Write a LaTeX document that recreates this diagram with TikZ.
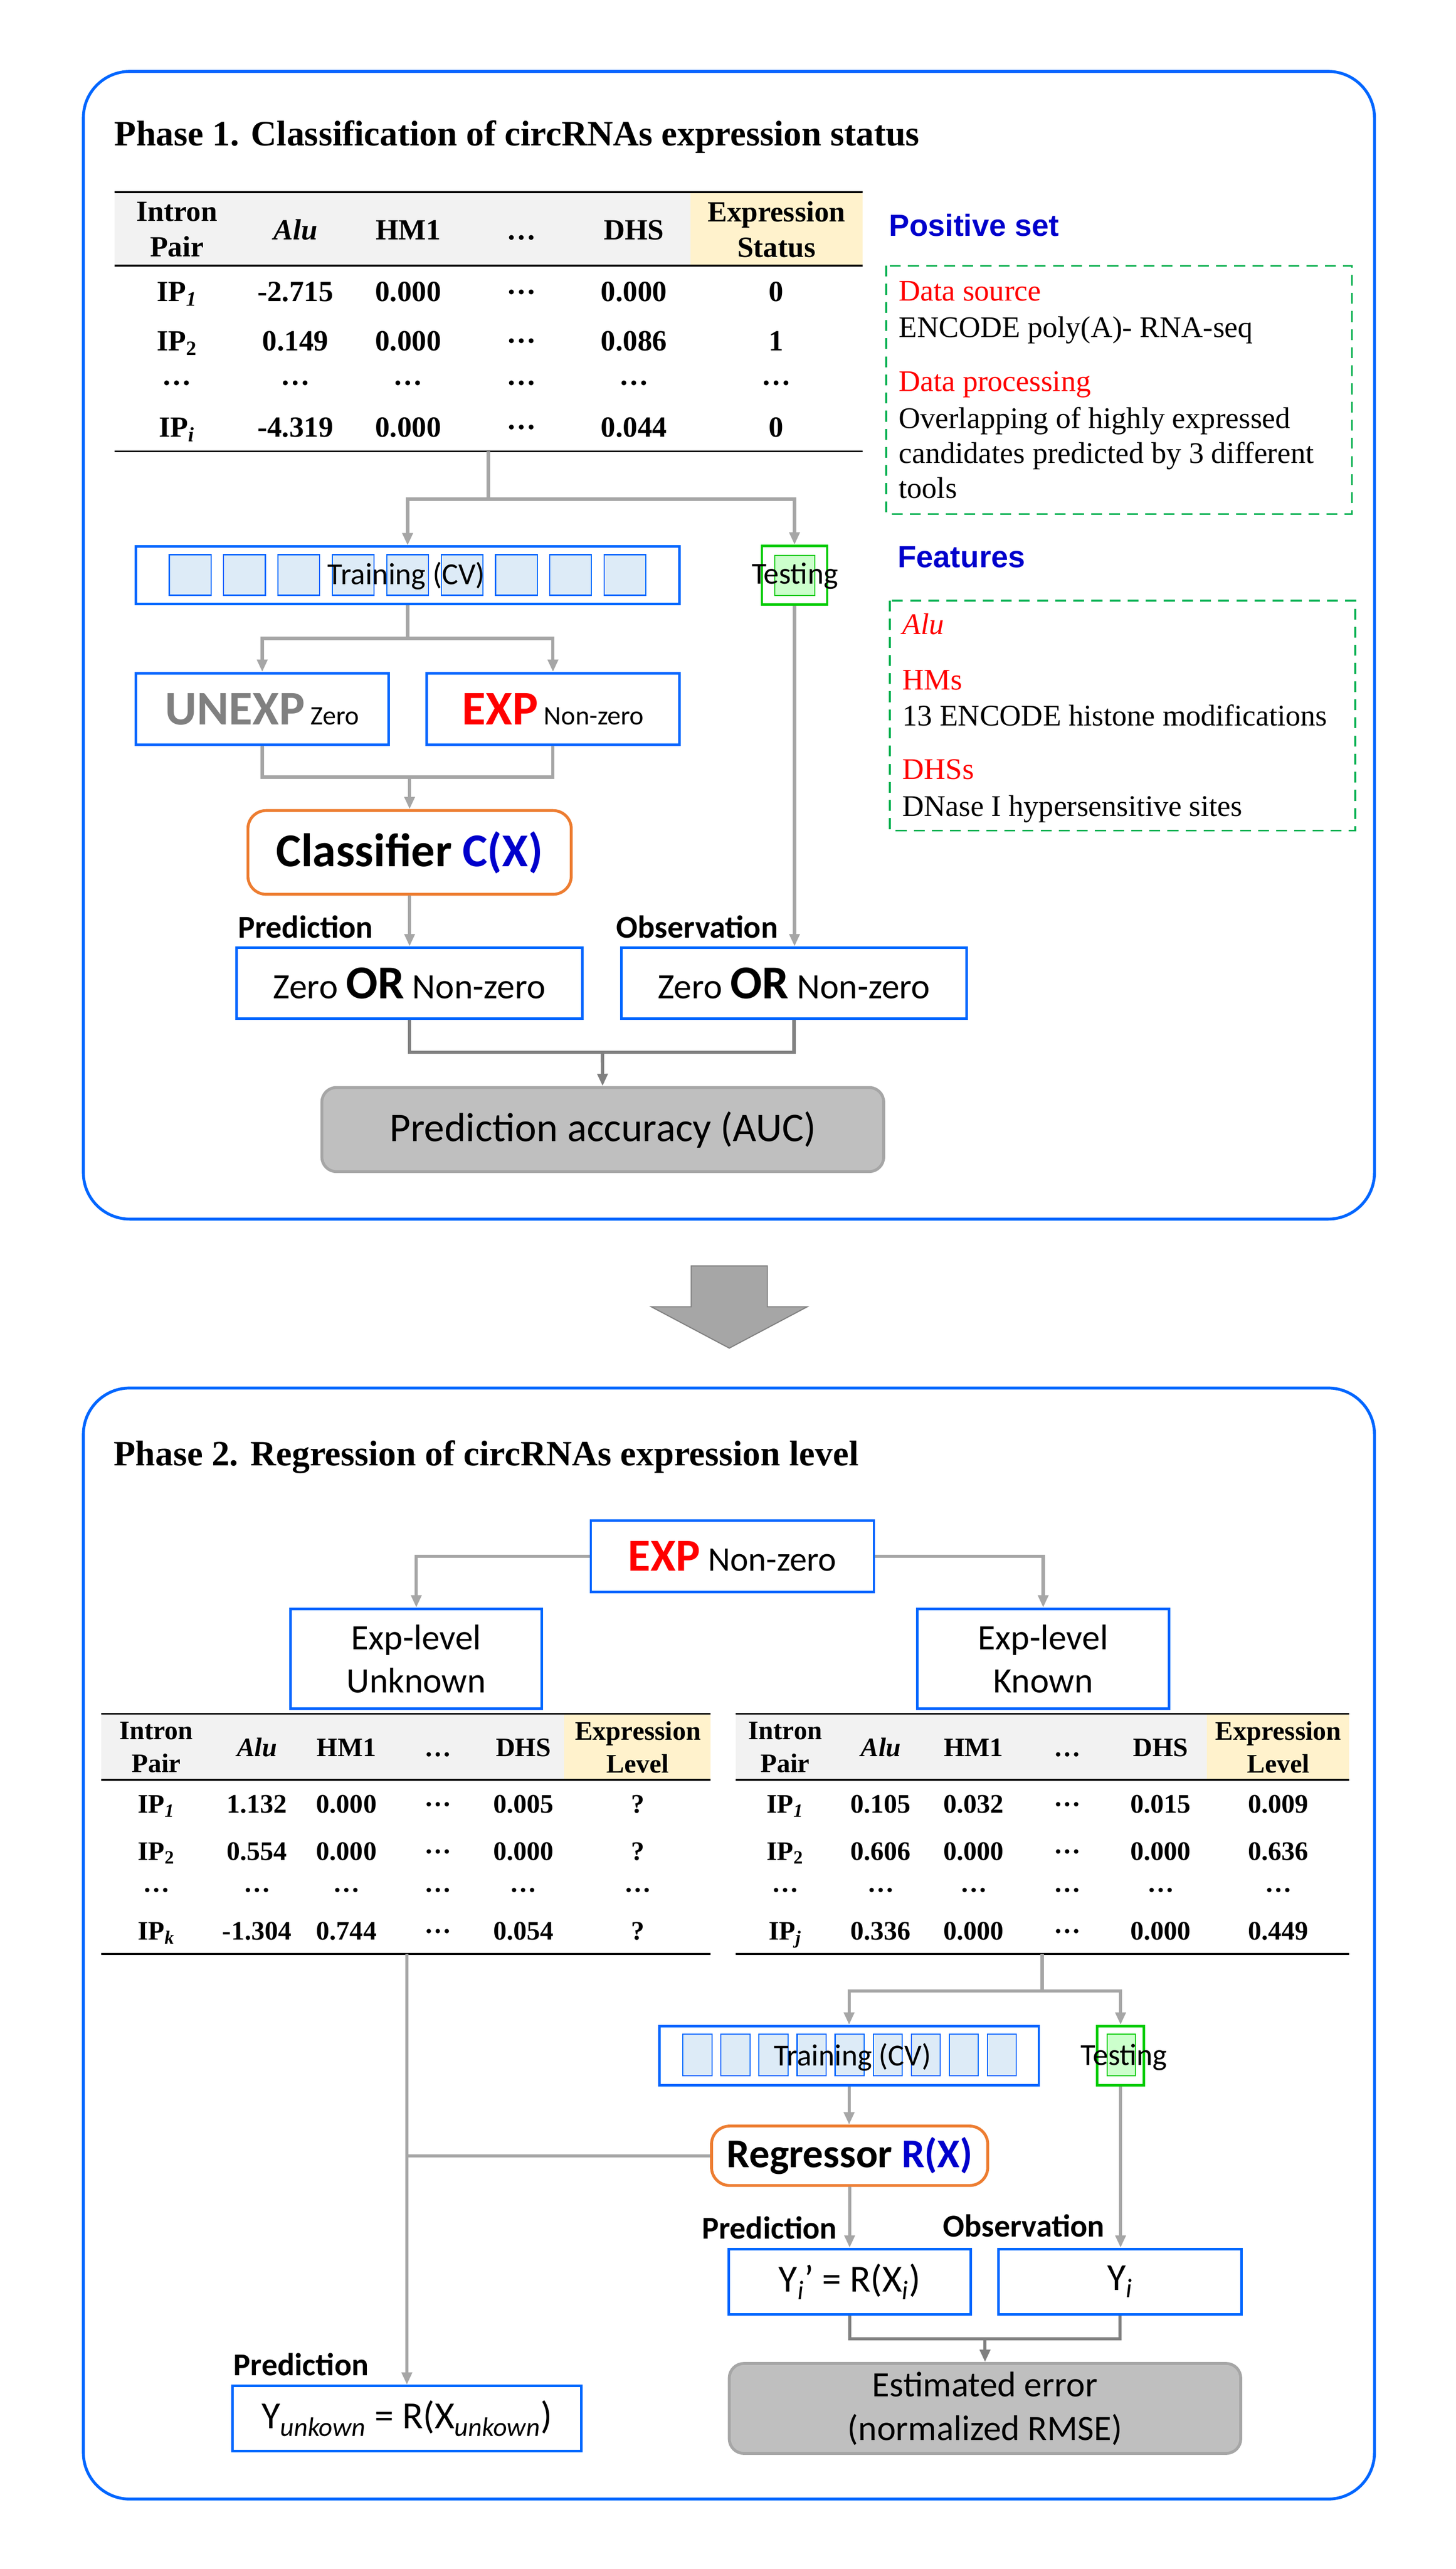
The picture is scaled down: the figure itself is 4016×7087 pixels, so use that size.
\documentclass[tikz,border=0pt]{standalone}
\usepackage{fontspec}
\setmainfont{Liberation Serif}
\setsansfont{Carlito}
\newfontfamily\headfont{Liberation Sans}
\usetikzlibrary{arrows.meta}
\definecolor{frameblue}{HTML}{0066FF}
\definecolor{navy}{HTML}{0000CC}
\definecolor{expred}{HTML}{FF0000}
\definecolor{unexpgray}{HTML}{808080}
\definecolor{conngray}{HTML}{A6A6A6}
\definecolor{darkconn}{HTML}{808080}
\definecolor{orangeline}{HTML}{ED7D31}
\definecolor{testgreen}{HTML}{00CC00}
\definecolor{testfill}{HTML}{CCFFCC}
\definecolor{dashgreen}{HTML}{00B050}
\definecolor{foldfill}{HTML}{DDEBF7}
\definecolor{headgray}{HTML}{F2F2F2}
\definecolor{headyellow}{HTML}{FFF2CC}
\definecolor{resultfill}{HTML}{BFBFBF}
\newcommand{\middots}{\raisebox{.25em}{…}}

\begin{document}
\begin{tikzpicture}[x=0.1mm,y=-0.1mm,
    conn/.style={draw=conngray,line width=0.9mm},
    dark conn/.style={draw=darkconn,line width=0.9mm},
    arrowed/.style={-{Triangle[length=3.4mm,width=2.8mm]}},
    phase frame/.style={draw=frameblue,line width=0.8mm,rounded corners=12.8mm},
    blue box/.style={draw=frameblue,line width=0.7mm,fill=white,inner sep=0pt,font=\sffamily},
    fold/.style={draw=frameblue,fill=foldfill,line width=0.3mm},
    test box/.style={draw=testgreen,line width=0.7mm,fill=white,inner sep=0pt},
    test fold/.style={draw=testgreen,fill=testfill,line width=0.3mm},
    model box/.style={draw=orangeline,line width=0.8mm,rounded corners=5mm,fill=white,inner sep=0pt,font=\sffamily\bfseries},
    result box/.style={draw=conngray,fill=resultfill,line width=0.8mm,rounded corners=4mm,inner sep=0pt,font=\sffamily\fontsize{32}{38}\selectfont},
    dash box/.style={draw=dashgreen,line width=0.45mm,dash pattern=on 3mm off 2mm},
    rule/.style={line width=0.5mm},
    phase title/.style={font=\bfseries\fontsize{28}{32}\selectfont,inner sep=0pt,anchor=base west},
    tab one/.style={font=\bfseries\fontsize{23}{28}\selectfont,inner sep=0pt,anchor=base},
    tab two/.style={font=\bfseries\fontsize{21}{25.5}\selectfont,inner sep=0pt,anchor=base},
    note/.style={font=\fontsize{23.5}{27.5}\selectfont,inner sep=0pt,anchor=base west},
    side head/.style={font=\headfont\bfseries\fontsize{24}{28}\selectfont,text=navy,inner sep=0pt,anchor=base west},
    lbl/.style={font=\sffamily\bfseries\fontsize{25}{30}\selectfont,inner sep=0pt,anchor=base west},
    cv/.style={font=\sffamily\fontsize{24}{28}\selectfont,inner sep=0pt}]

  \useasboundingbox (0,0) rectangle (4016,7087);

  % ---------------- Phase 1 ----------------
  \draw[phase frame] (230,197) rectangle (3792,3363);
  \node[phase title] (title1) at (315,402) {Phase 1. Classification of circRNAs expression status};

  % table
  \fill[headgray] (316,530) rectangle (1905,733);
  \fill[headyellow] (1905,530) rectangle (2380,733);
  \draw[rule] (316,530) -- (2380,530);
  \draw[rule] (316,733) -- (2380,733);
  \draw[rule] (316,1245) -- (2380,1245);
  \node[tab one,anchor=center,align=center] (h1a) at (488,633) {Intron\\Pair};
  \node[tab one] (h1b) at (815,661) {\textit{Alu}};
  \node[tab one] (h1c) at (1126,661) {HM1};
  \node[tab one] (h1d) at (1438,661) {…};
  \node[tab one] (h1e) at (1749,661) {DHS};
  \node[tab one,anchor=center,align=center] (h1f) at (2142,633) {Expression\\Status};
  \foreach \x/\v [count=\c] in {488/IP\textsubscript{\textit{1}},815/-2.715,1126/0.000,1438/\middots,1749/0.000,2142/0}
    \node[tab one] (a1\c) at (\x,831) {\v};
  \foreach \x/\v [count=\c] in {488/IP\textsubscript{2},815/0.149,1126/0.000,1438/\middots,1749/0.086,2142/1}
    \node[tab one] (a2\c) at (\x,967) {\v};
  \foreach \x [count=\c] in {488,815,1126,1438,1749,2142}
    \node[tab one] (a3\c) at (\x,1063) {…};
  \foreach \x/\v [count=\c] in {488/IP\textsubscript{\textit{i}},815/-4.319,1126/0.000,1438/\middots,1749/0.044,2142/0}
    \node[tab one] (a4\c) at (\x,1205) {\v};

  % positive set and features
  \node[side head] (pos) at (2452,651) {Positive set};
  \draw[dash box] (2445,733) rectangle (3730,1418);
  \node[note,text=expred] (src) at (2479,830) {Data source};
  \node[note] (srctxt) at (2479,930) {ENCODE poly(A)- RNA-seq};
  \node[note,text=expred] (proc) at (2479,1079) {Data processing};
  \node[note,anchor=north west,align=left] (proctxt) at (2479,1122)
    {Overlapping of highly expressed\\candidates predicted by 3 different\\tools};
  \node[side head] (feat) at (2476,1566) {Features};
  \draw[dash box] (2455,1657) rectangle (3739,2291);
  \node[note,text=expred] (falu) at (2489,1750) {\textit{Alu}};
  \node[note,text=expred] (fhm) at (2489,1903) {HMs};
  \node[note] (fhmtxt) at (2489,2002) {13 ENCODE histone modifications};
  \node[note,text=expred] (fdhs) at (2489,2150) {DHSs};
  \node[note] (fdhstxt) at (2489,2251) {DNase I hypersensitive sites};

  % training / testing
  \node[blue box,minimum width=149.9mm,minimum height=15.8mm] (train1) at (1124.5,1587) {};
  \foreach \i in {0,...,8}
    \draw[fold] ({467+150*\i},1530) rectangle ++(115,112);
  \node[cv] (cv1) at (1121,1589) {Training (CV)};
  \node[test box,minimum width=18mm,minimum height=16.2mm] (test1) at (2192,1587) {};
  \draw[test fold] (2138,1532) rectangle (2248,1643);
  \node[cv] (tst1) at (2193,1589) {Testing};

  \node[blue box,minimum width=69.7mm,minimum height=19.8mm] (unexp) at (723.5,1956)
    {{\bfseries\color{unexpgray}\fontsize{38}{40}\selectfont UNEXP}{\fontsize{21}{24}\selectfont\ Zero}};
  \node[blue box,minimum width=69.7mm,minimum height=19.8mm] (exp1) at (1525.5,1956)
    {{\bfseries\color{expred}\fontsize{38}{40}\selectfont EXP}{\fontsize{21}{24}\selectfont\ Non-zero}};
  \node[model box,minimum width=89.2mm,minimum height=23.1mm] (clf) at (1130,2351.5)
    {\fontsize{37}{40}\selectfont Classifier \textcolor{navy}{C(X)}};

  \node[lbl] (predlbl1) at (656,2587) {Prediction};
  \node[lbl] (obslbl1) at (1700,2587) {Observation};
  \node[blue box,minimum width=95.3mm,minimum height=19.6mm] (pred1) at (1129.5,2712)
    {\fontsize{28}{30}\selectfont Zero {\bfseries\fontsize{37}{40}\selectfont OR} Non-zero};
  \node[blue box,minimum width=95.3mm,minimum height=19.6mm] (obs1) at (2190.5,2712)
    {\fontsize{28}{30}\selectfont Zero {\bfseries\fontsize{37}{40}\selectfont OR} Non-zero};
  \node[result box,minimum width=155mm,minimum height=23.2mm] (auc) at (1663,3116)
    {Prediction accuracy (AUC)};

  \coordinate (t1b) at (1347,1245);
  \coordinate (s1) at (1347,1377);
  \coordinate (s2) at (1124.5,1761);
  \coordinate (m1) at (1130,2144);
  \coordinate (m2) at (1662,2903);
  \draw[conn] (t1b) -- (s1);
  \draw[conn,arrowed] (s1) -| (train1);
  \draw[conn,arrowed] (s1) -| (test1);
  \draw[conn] (train1) -- (s2);
  \draw[conn,arrowed] (s2) -| (unexp);
  \draw[conn,arrowed] (s2) -| (exp1);
  \draw[conn] (unexp) |- (m1) -| (exp1);
  \draw[conn,arrowed] (m1) -- (clf);
  \draw[conn,arrowed] (clf) -- (clf |- pred1.north);
  \draw[conn,arrowed] (test1) -- (test1 |- obs1.north);
  \draw[dark conn] (pred1) |- (m2) -| (obs1);
  \draw[dark conn,arrowed] (m2) -- (auc);

  % big arrow between phases
  \draw[fill=conngray,draw=darkconn,line width=0.3mm]
    (1907,3492) -- (2117,3492) -- (2117,3605) -- (2227,3605) -- (2012,3719)
    -- (1797,3605) -- (1907,3605) -- cycle;

  % ---------------- Phase 2 ----------------
  \draw[phase frame] (230,3829) rectangle (3792,6894);
  \node[phase title] (title2) at (313,4043) {Phase 2. Regression of circRNAs expression level};

  \node[blue box,minimum width=78.1mm,minimum height=19.7mm] (exp2) at (2020.5,4293.5)
    {{\bfseries\color{expred}\fontsize{36}{40}\selectfont EXP}{\fontsize{27}{30}\selectfont\ Non-zero}};
  \node[blue box,align=center,minimum width=69.3mm,minimum height=27.6mm,font=\sffamily\fontsize{28}{34}\selectfont] (unk) at (1148.5,4576) {Exp-level\\Unknown};
  \node[blue box,align=center,minimum width=69.4mm,minimum height=27.6mm,font=\sffamily\fontsize{28}{34}\selectfont] (known) at (2878,4576) {Exp-level\\Known};
  \draw[conn,arrowed] (exp2) -| (unk);
  \draw[conn,arrowed] (exp2) -| (known);

  % left table
  \fill[headgray] (279,4728) rectangle (1556,4910);
  \fill[headyellow] (1556,4728) rectangle (1960,4910);
  \draw[rule] (279,4728) -- (1960,4728);
  \draw[rule] (279,4910) -- (1960,4910);
  \draw[rule] (279,5390) -- (1960,5390);
  \node[tab two,anchor=center,align=center] (h2a) at (431,4820) {Intron\\Pair};
  \node[tab two] (h2b) at (709,4845) {\textit{Alu}};
  \node[tab two] (h2c) at (956,4845) {HM1};
  \node[tab two] (h2d) at (1209,4845) {…};
  \node[tab two] (h2e) at (1444,4845) {DHS};
  \node[tab two,anchor=center,align=center] (h2f) at (1760,4820) {Expression\\Level};
  \foreach \x/\v [count=\c] in {431/IP\textsubscript{\textit{1}},709/1.132,956/0.000,1209/\middots,1444/0.005,1760/?}
    \node[tab two] (b1\c) at (\x,5001) {\v};
  \foreach \x/\v [count=\c] in {431/IP\textsubscript{2},709/0.554,956/0.000,1209/\middots,1444/0.000,1760/?}
    \node[tab two] (b2\c) at (\x,5131) {\v};
  \foreach \x [count=\c] in {431,709,956,1209,1444,1760}
    \node[tab two] (b3\c) at (\x,5220) {…};
  \foreach \x/\v [count=\c] in {431/IP\textsubscript{\textit{k}},709/-1.304,956/0.744,1209/\middots,1444/0.054,1760/?}
    \node[tab two] (b4\c) at (\x,5352) {\v};

  % right table
  \fill[headgray] (2029,4728) rectangle (3329,4910);
  \fill[headyellow] (3329,4728) rectangle (3722,4910);
  \draw[rule] (2029,4728) -- (3722,4728);
  \draw[rule] (2029,4910) -- (3722,4910);
  \draw[rule] (2029,5390) -- (3722,5390);
  \node[tab two,anchor=center,align=center] (h3a) at (2166,4820) {Intron\\Pair};
  \node[tab two] (h3b) at (2430,4845) {\textit{Alu}};
  \node[tab two] (h3c) at (2686,4845) {HM1};
  \node[tab two] (h3d) at (2945,4845) {…};
  \node[tab two] (h3e) at (3202,4845) {DHS};
  \node[tab two,anchor=center,align=center] (h3f) at (3527,4820) {Expression\\Level};
  \foreach \x/\v [count=\c] in {2166/IP\textsubscript{\textit{1}},2430/0.105,2686/0.032,2945/\middots,3202/0.015,3527/0.009}
    \node[tab two] (c1\c) at (\x,5001) {\v};
  \foreach \x/\v [count=\c] in {2166/IP\textsubscript{2},2430/0.606,2686/0.000,2945/\middots,3202/0.000,3527/0.636}
    \node[tab two] (c2\c) at (\x,5131) {\v};
  \foreach \x [count=\c] in {2166,2430,2686,2945,3202,3527}
    \node[tab two] (c3\c) at (\x,5220) {…};
  \foreach \x/\v [count=\c] in {2166/IP\textsubscript{\textit{j}},2430/0.336,2686/0.000,2945/\middots,3202/0.000,3527/0.449}
    \node[tab two] (c4\c) at (\x,5352) {\v};

  % training / testing
  \node[blue box,minimum width=104.7mm,minimum height=16.3mm] (train2) at (2342.5,5670.5) {};
  \foreach \i in {0,...,8}
    \draw[fold] ({1884+105*\i},5611) rectangle ++(80,115);
  \node[cv] (cv2) at (2352,5675) {Training (CV)};
  \node[test box,minimum width=12.9mm,minimum height=16.3mm] (test2) at (3091.5,5670.5) {};
  \draw[test fold] (3055,5611) rectangle (3132,5726);
  \node[cv] (tst2) at (3101,5675) {Testing};

  \node[model box,minimum width=76.2mm,minimum height=16.4mm] (reg) at (2344,5947)
    {\fontsize{32}{36}\selectfont Regressor \textcolor{navy}{R(X)}};
  \node[lbl] (predlbl2) at (1936,6176) {Prediction};
  \node[lbl] (obslbl2) at (2601,6170) {Observation};
  \node[blue box,minimum width=66.8mm,minimum height=18mm] (pred2) at (2344,6294)
    {\fontsize{30}{34}\selectfont Y\textsubscript{\textit{i}}’ = R(X\textsubscript{\textit{i}})};
  \node[blue box,minimum width=67mm,minimum height=18mm] (obs2) at (3090,6294)
    {\fontsize{30}{34}\selectfont Y\textsubscript{\textit{i}}};
  \node[result box,align=center,minimum width=141.1mm,minimum height=24.8mm,font=\sffamily\fontsize{28}{34.5}\selectfont] (err) at (2717.5,6644)
    {Estimated error\\(normalized RMSE)};
  \node[lbl] (predlbl3) at (644,6553) {Prediction};
  \node[blue box,minimum width=96.3mm,minimum height=18mm] (upred) at (1122.5,6672)
    {\fontsize{30}{34}\selectfont Y\textsubscript{\textit{unkown}} = R(X\textsubscript{\textit{unkown}})};

  \coordinate (t2b) at (1122.5,5390);
  \coordinate (t3b) at (2875,5390);
  \coordinate (s3) at (2875,5492);
  \coordinate (m3) at (2717.5,6452);
  \draw[conn,arrowed] (t2b) -- (upred);
  \draw[conn] (reg) -- (reg -| t2b);
  \draw[conn] (t3b) -- (s3);
  \draw[conn,arrowed] (s3) -| (train2);
  \draw[conn,arrowed] (s3) -| (test2);
  \draw[conn,arrowed] (train2) -- (train2 |- reg.north);
  \draw[conn,arrowed] (reg) -- (pred2);
  \draw[conn,arrowed] (test2) -- (test2 |- obs2.north);
  \draw[dark conn] (pred2) |- (m3) -| (obs2);
  \draw[dark conn,arrowed] (m3) -- (err);
\end{tikzpicture}
\end{document}
